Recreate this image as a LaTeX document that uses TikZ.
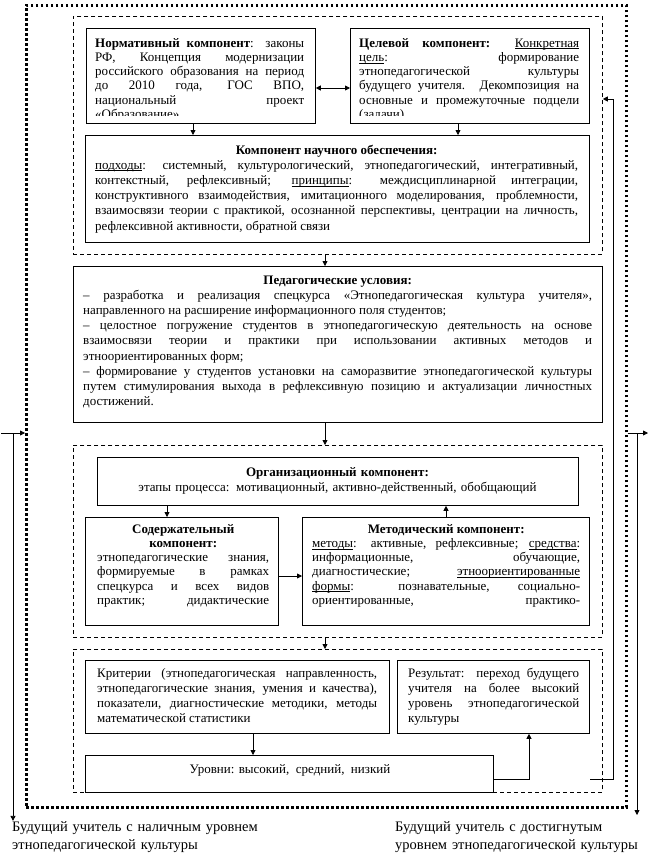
\documentclass[tikz,border=0pt]{standalone}
\usepackage{fontspec}
\setmainfont{Liberation Serif}
\usetikzlibrary{arrows.meta}

\newcommand{\ulin}[1]{\underline{\smash{#1}}}

\tikzset{
  blk/.style={draw, line width=0.8pt, anchor=north west, inner sep=0pt},
  grp/.style={draw, line width=0.8pt, dash pattern=on 4pt off 3pt, anchor=north west, inner sep=0pt},
  txt/.style={anchor=base west, inner sep=0pt, align=justify, font=\fontsize{13}{14.3}\selectfont},
  txtw/.style={txt, font=\fontsize{13}{15.2}\selectfont},
  endtxt/.style={anchor=base west, inner sep=0pt, align=left, text width=270pt, font=\fontsize{14.5}{18.5}\selectfont},
  lnk/.style={line width=0.8pt, -{Triangle[length=5pt,width=5pt]}},
  dlnk/.style={line width=0.8pt, {Triangle[length=5pt,width=5pt]}-{Triangle[length=5pt,width=5pt]}},
}

\begin{document}
\begin{tikzpicture}[x=1pt,y=-1pt]
\useasboundingbox (0,0) rectangle (664,865);

% outer frame and groups
\node[draw, line width=2.7pt, dash pattern=on 2.7pt off 2.3pt, anchor=north west, inner sep=0pt,
  minimum width=600pt, minimum height=802pt] (outer) at (25,4) {};
\node[grp, minimum width=529pt, minimum height=238pt] (g1) at (73,16) {};
\node[grp, minimum width=529pt, minimum height=192pt] (g2) at (73,445) {};
\node[grp, minimum width=529pt, minimum height=143pt] (g3) at (73,649) {};

% boxes
\node[blk, minimum width=229pt, minimum height=95pt] (norm) at (86,28) {};
\node[blk, minimum width=239pt, minimum height=95pt] (goal) at (350,28) {};
\node[blk, minimum width=504pt, minimum height=107pt] (sci) at (85,135) {};
\node[blk, minimum width=529pt, minimum height=156pt] (cond) at (73,266) {};
\node[blk, minimum width=481pt, minimum height=48pt] (org) at (97,457) {};
\node[blk, minimum width=193pt, minimum height=108pt] (cont) at (85,517) {};
\node[blk, minimum width=287pt, minimum height=108pt] (meth) at (302,517) {};
\node[blk, minimum width=304pt, minimum height=73pt] (crit) at (85,660) {};
\node[blk, minimum width=192pt, minimum height=73pt] (res) at (397,660) {};
\node[blk, minimum width=408pt, minimum height=37pt] (lev) at (85,755) {};

% texts
\begin{scope}
  \clip (norm.north west) rectangle ([yshift=8pt]norm.south east);
  \node[txt, text width=209pt] (normtxt) at (95,47) {\textbf{Нормативный компонент}: законы\linebreak
    РФ, Концепция модернизации\linebreak российского образования на период\linebreak
    до 2010 года, ГОС ВПО,\linebreak национальный проект\linebreak «Образование»};
\end{scope}
\begin{scope}
  \clip (goal.north west) rectangle ([yshift=8pt]goal.south east);
  \node[txt, text width=220pt] (goaltxt) at (359,47) {\textbf{Целевой компонент:} \ulin{Конкретная}\linebreak
    \ulin{цель}: формирование\linebreak этнопедагогической культуры\linebreak
    будущего учителя. Декомпозиция на\linebreak основные и промежуточные подцели\linebreak (задачи)};
\end{scope}
\node[txtw, text width=483pt] (scitxt) at (95,154) {{\centering\textbf{Компонент научного обеспечения:}\par}
  \ulin{подходы}: системный, культурологический, этнопедагогический, интегративный,\linebreak
  контекстный, рефлексивный; \ulin{принципы}: междисциплинарной интеграции,\linebreak
  конструктивного взаимодействия, имитационного моделирования, проблемности,\linebreak
  взаимосвязи теории с практикой, осознанной перспективы, центрации на личность,\linebreak
  рефлексивной активности, обратной связи};
\node[txtw, text width=509pt] (condtxt) at (83,284) {{\centering\textbf{Педагогические условия:}\par}
  – разработка и реализация спецкурса «Этнопедагогическая культура учителя»,\linebreak
  направленного на расширение информационного поля студентов;\par
  – целостное погружение студентов в этнопедагогическую деятельность на основе\linebreak
  взаимосвязи теории и практики при использовании активных методов и\linebreak
  этноориентированных форм;\par
  – формирование у студентов установки на саморазвитие этнопедагогической культуры\linebreak
  путем стимулирования выхода в рефлексивную позицию и актуализации личностных\linebreak
  достижений.};
\node[txtw, anchor=base, align=center, text width=470pt] (orgtxt) at (337.5,476)
  {\textbf{Организационный компонент:}\\этапы процесса: мотивационный, активно-действенный, обобщающий};
\node[txt, text width=172pt] (conttxt) at (97,533) {{\centering\textbf{Содержательный}\\\textbf{компонент:}\par}
  этнопедагогические знания,\linebreak формируемые в рамках\linebreak спецкурса и всех видов\linebreak
  практик; дидактические\linebreak\mbox{}};
\node[txt, text width=268pt] (methtxt) at (312,533) {{\centering\textbf{Методический компонент:}\par}
  \ulin{методы}: активные, рефлексивные; \ulin{средства}:\linebreak
  информационные, обучающие,\linebreak диагностические; \ulin{этноориентированные}\linebreak
  \ulin{формы}: познавательные, социально-\linebreak ориентированные, практико-\linebreak\mbox{}};
\node[txtw, text width=280pt] (crittxt) at (97,677) {Критерии (этнопедагогическая направленность,\linebreak
  этнопедагогические знания, умения и качества),\linebreak показатели, диагностические методики, методы\linebreak
  математической статистики};
\node[txtw, text width=171pt] (restxt) at (408,677) {Результат: переход будущего\linebreak
  учителя на более высокий\linebreak уровень этнопедагогической\linebreak культуры};
\node[txtw, anchor=base] (levtxt) at (290,773) {Уровни: высокий,\ \ средний,\ \ низкий};

% start and finish
\node[endtxt] (start) at (12,831) {Будущий учитель с наличным уровнем\\этнопедагогической культуры};
\node[endtxt] (finish) at (395,831) {Будущий учитель с достигнутым\\уровнем этнопедагогической культуры};

% connectors
\draw[dlnk] (norm.east |- 0,88) -- (goal.west |- 0,88);
\draw[lnk] (norm.south -| 193,0) -- (sci.north -| 193,0);
\draw[lnk] (goal.south -| 458,0) -- (sci.north -| 458,0);
\draw[lnk] (g1.south -| 325,0) -- (cond.north -| 325,0);
\draw[lnk] (cond.south -| 325,0) -- (g2.north -| 325,0);
\draw[lnk] (org.south -| 167,0) -- (cont.north -| 167,0);
\draw[lnk] (meth.north -| 446,0) -- (org.south -| 446,0);
\draw[lnk] (cont.east |- 0,576) -- (meth.west |- 0,576);
\draw[lnk] (g2.south -| 325,0) -- (g3.north -| 325,0);
\draw[lnk] (crit.south -| 253,0) -- (lev.north -| 253,0);
\draw[lnk] (lev.east |- 0,779) -| (res.south -| 529,0);

\coordinate (fb) at (590,779);
\draw[lnk] (fb) -- (613,779) -- (613,99) -- (g1.east |- 0,99);

\coordinate (inL) at (1,433);
\coordinate (inJ) at (13,433);
\draw[lnk] (inL) -- (outer.west |- inL);
\draw[lnk] (inJ) -- (inJ |- start.north);

\coordinate (outR) at (648,433);
\coordinate (outJ) at (637,433);
\coordinate (outE) at (637,815);
\draw[lnk] (outer.east |- outR) -- (outR);
\draw[lnk] (outJ) -- (outE);
\end{tikzpicture}
\end{document}
